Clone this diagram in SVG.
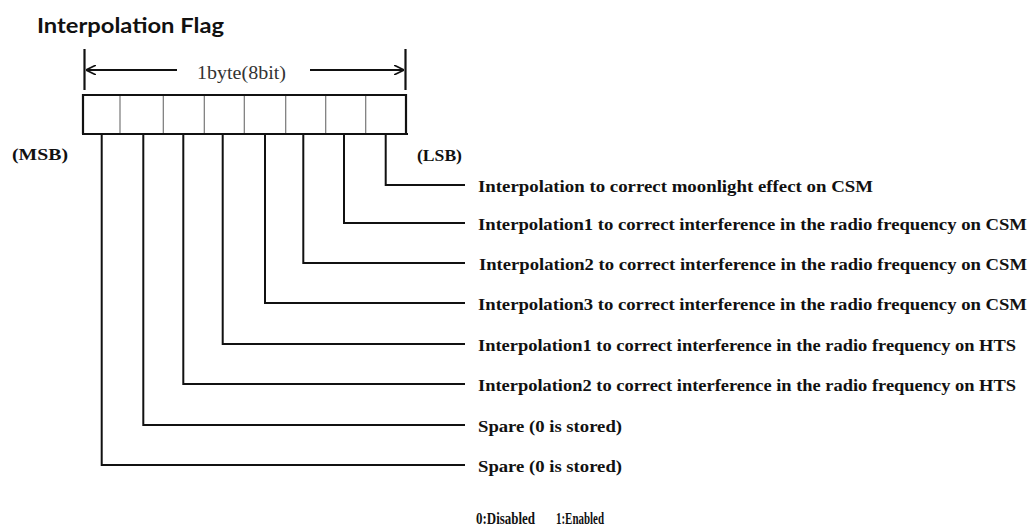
<svg xmlns="http://www.w3.org/2000/svg" width="1029" height="527" viewBox="0 0 1029 527">
<style>
.title{font-family:Lato,"Liberation Sans",sans-serif;font-weight:bold;font-size:21px;fill:#111}
.lbl{font-family:"Liberation Serif","Times New Roman",serif;font-weight:bold;font-size:17px;fill:#111}
.leg{font-family:"Liberation Serif","Times New Roman",serif;font-weight:bold;font-size:16px;fill:#111}
.dim{font-family:"Liberation Serif","Times New Roman",serif;font-size:19px;fill:#333}
.thick{stroke:#111;stroke-width:2.2;fill:none}
.thin{stroke:#777;stroke-width:1.2;fill:none}
.lead{stroke:#111;stroke-width:2;fill:none}
</style>
<defs>
<marker id="open" viewBox="0 0 10 10" refX="10" refY="5" markerWidth="10" markerHeight="10" markerUnits="userSpaceOnUse" orient="auto-start-reverse">
<path d="M0,0 L10,5 L0,10" fill="none" stroke="#111" stroke-width="1.6"/>
</marker>
</defs>
<text class="title" x="37" y="33" textLength="187" lengthAdjust="spacingAndGlyphs">Interpolation Flag</text>
<g id="dimension">
<line class="thick" x1="84.5" y1="49" x2="84.5" y2="90"/>
<line class="thick" x1="405.5" y1="49" x2="405.5" y2="90"/>
<line class="lead" x1="177" y1="70" x2="86" y2="70" marker-end="url(#open)"/>
<line class="lead" x1="310" y1="70" x2="404" y2="70" marker-end="url(#open)"/>
<text class="dim" x="197" y="79" textLength="89" lengthAdjust="spacingAndGlyphs">1byte(8bit)</text>
</g>
<g id="byte">
<line class="thin" x1="120" y1="95" x2="120" y2="134"/>
<line class="thin" x1="163.3" y1="95" x2="163.3" y2="134"/>
<line class="thin" x1="204.3" y1="95" x2="204.3" y2="134"/>
<line class="thin" x1="244.3" y1="95" x2="244.3" y2="134"/>
<line class="thin" x1="285.7" y1="95" x2="285.7" y2="134"/>
<line class="thin" x1="325.7" y1="95" x2="325.7" y2="134"/>
<line class="thin" x1="365.7" y1="95" x2="365.7" y2="134"/>
<path class="thick" d="M83,134 L83,95 L406,95 L406,134"/>
<line class="thick" x1="82" y1="134" x2="408" y2="134"/>
</g>
<text id="msb" class="lbl" x="12" y="160" textLength="56" lengthAdjust="spacingAndGlyphs">(MSB)</text>
<text id="lsb" class="lbl" x="417" y="161" textLength="45" lengthAdjust="spacingAndGlyphs">(LSB)</text>
<g id="connectors">
<path class="lead" d="M385.7,134 V185 H465"/>
<path class="lead" d="M344,134 V223 H465"/>
<path class="lead" d="M303.3,134 V263 H465"/>
<path class="lead" d="M265,134 V303 H465"/>
<path class="lead" d="M222.7,134 V344 H465"/>
<path class="lead" d="M183.3,134 V384 H465"/>
<path class="lead" d="M143.3,134 V425 H465"/>
<path class="lead" d="M101.7,134 V465 H465"/>
</g>
<g id="bit0"><text class="lbl" x="478" y="191.5" textLength="395" lengthAdjust="spacingAndGlyphs">Interpolation to correct moonlight effect on CSM</text></g>
<g id="bit1"><text class="lbl" x="478" y="229.5" textLength="549" lengthAdjust="spacingAndGlyphs">Interpolation1 to correct interference in the radio frequency on CSM</text></g>
<g id="bit2"><text class="lbl" x="479" y="269.5" textLength="548" lengthAdjust="spacingAndGlyphs">Interpolation2 to correct interference in the radio frequency on CSM</text></g>
<g id="bit3"><text class="lbl" x="478" y="309.5" textLength="549" lengthAdjust="spacingAndGlyphs">Interpolation3 to correct interference in the radio frequency on CSM</text></g>
<g id="bit4"><text class="lbl" x="478" y="350.5" textLength="538" lengthAdjust="spacingAndGlyphs">Interpolation1 to correct interference in the radio frequency on HTS</text></g>
<g id="bit5"><text class="lbl" x="478" y="390.5" textLength="538" lengthAdjust="spacingAndGlyphs">Interpolation2 to correct interference in the radio frequency on HTS</text></g>
<g id="bit6"><text class="lbl" x="478" y="431.5" textLength="144" lengthAdjust="spacingAndGlyphs">Spare (0 is stored)</text></g>
<g id="bit7"><text class="lbl" x="478" y="471.5" textLength="144" lengthAdjust="spacingAndGlyphs">Spare (0 is stored)</text></g>
<g id="legend">
<text class="leg" x="476" y="524" textLength="59" lengthAdjust="spacingAndGlyphs">0:Disabled</text>
<text class="leg" x="556" y="524" textLength="48" lengthAdjust="spacingAndGlyphs">1:Enabled</text>
</g>
</svg>
